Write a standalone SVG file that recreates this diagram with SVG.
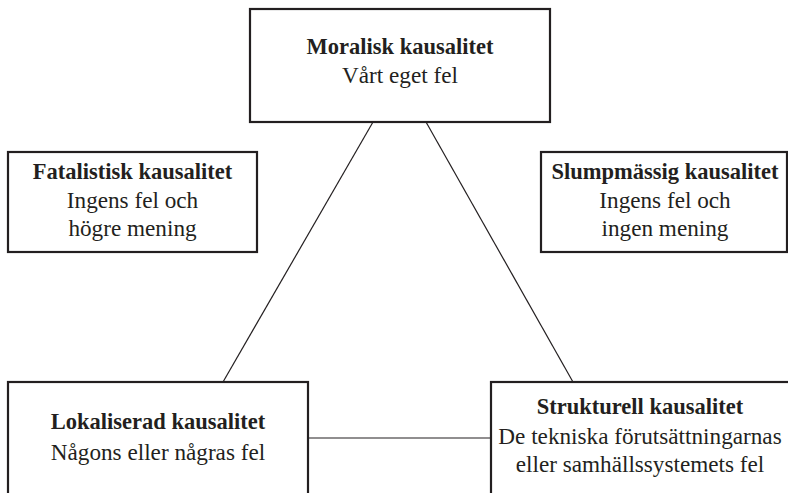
<svg xmlns="http://www.w3.org/2000/svg" width="788" height="493" viewBox="0 0 788 493">
<style>
.box{fill:#fff;stroke:#231f20;stroke-width:2.2}
.t{font-family:"Liberation Serif","Times New Roman",serif;font-size:23.2px;fill:#231f20;text-anchor:middle}
.b{font-weight:bold;font-size:22.5px}
.c{stroke:#231f20;stroke-width:1.2;fill:none}
</style>
<rect width="788" height="493" fill="#fff"/>
<g id="connectors">
<line class="c" x1="373" y1="122" x2="223" y2="382"/>
<line class="c" x1="426" y1="122" x2="573" y2="382"/>
<line class="c" x1="308" y1="438" x2="491" y2="438"/>
</g>
<g id="moralisk">
<rect class="box" x="250" y="9" width="300" height="113"/>
<text class="t b" x="400" y="54">Moralisk kausalitet</text>
<text class="t" x="400" y="83">Vårt eget fel</text>
</g>
<g id="fatalistisk">
<rect class="box" x="8" y="152" width="249" height="100"/>
<text class="t b" x="132.5" y="179">Fatalistisk kausalitet</text>
<text class="t" x="132.5" y="208">Ingens fel och</text>
<text class="t" x="132.5" y="236">högre mening</text>
</g>
<g id="slumpmassig">
<rect class="box" x="541" y="152" width="246" height="100"/>
<text class="t b" x="665" y="179">Slumpmässig kausalitet</text>
<text class="t" x="665" y="208">Ingens fel och</text>
<text class="t" x="665" y="236">ingen mening</text>
</g>
<g id="lokaliserad">
<rect class="box" x="8" y="382" width="300" height="130"/>
<text class="t b" x="158" y="429">Lokaliserad kausalitet</text>
<text class="t" x="158" y="460">Någons eller någras fel</text>
</g>
<g id="strukturell">
<rect class="box" x="491" y="382" width="300" height="130"/>
<text class="t b" x="640" y="414">Strukturell kausalitet</text>
<text class="t" x="640" y="444">De tekniska förutsättningarnas</text>
<text class="t" x="640" y="472">eller samhällssystemets fel</text>
</g>
</svg>
